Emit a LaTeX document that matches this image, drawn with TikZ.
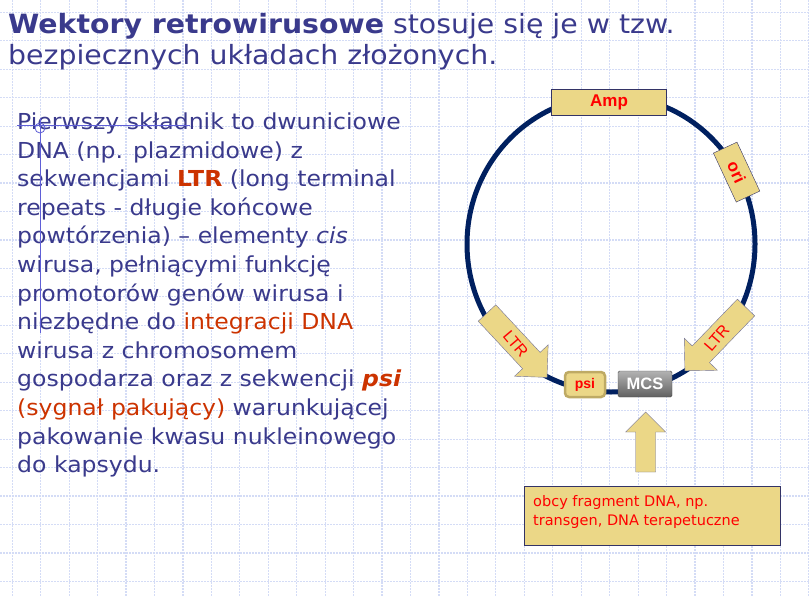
\documentclass[tikz,border=0pt]{standalone}
\usepackage{fontspec}
\setmainfont{DejaVu Sans}
\newfontfamily\slidefont[FakeStretch=1.07]{DejaVu Sans}
\newfontfamily\labelfont{Liberation Sans}
\usepackage{tikz}
\usetikzlibrary{positioning}

\definecolor{textblue}{RGB}{58,58,140}
\definecolor{hired}{RGB}{204,51,0}
\definecolor{khaki}{RGB}{235,215,135}
\definecolor{navy}{RGB}{0,32,96}
\definecolor{boxline}{RGB}{51,51,102}
\definecolor{gridblue}{RGB}{212,220,246}
\definecolor{psiline}{RGB}{190,170,100}
\definecolor{arrowline}{RGB}{115,115,150}
\definecolor{cursorblue}{RGB}{95,95,215}

\begin{document}
\begin{tikzpicture}[x=1pt,y=-1pt,
  gridline/.style={gridblue,line width=1.2pt,dash pattern=on 2pt off 1pt},
  plasmid/.style={navy,line width=5pt},
  labelbox/.style={rectangle,draw=boxline,thin,fill=khaki,inner sep=0pt,text=red,font=\labelfont\fontsize{17}{20}\selectfont\bfseries},
  ltrarrow/.style={draw=arrowline,thin,fill=khaki},
  ltrtext/.style={text=red,font=\labelfont\fontsize{16}{19}\selectfont},
  cursorline/.style={cursorblue,line width=0.8pt}]
\useasboundingbox (0,0) rectangle (810,596);
\fill[white] (0,0) rectangle (810,596);
% background grid
\foreach \i in {0,...,28}
  \draw[gridline] ({12.2+28.45*\i},0) -- ({12.2+28.45*\i},596);
\foreach \j in {0,...,20}
  \draw[gridline] (0,{12.35+28.45*\j}) -- (810,{12.35+28.45*\j});

% title and text
\node[anchor=north west,inner sep=0pt,align=left,text=textblue,font=\slidefont\fontsize{26.5}{31}\selectfont] (title) at (8,13.2)
  {\textbf{Wektory retrowirusowe} stosuje się je w tzw.\\bezpiecznych układach złożonych.};
\node[anchor=north west,inner sep=0pt,align=left,text=textblue,font=\slidefont\fontsize{22}{28.6}\selectfont] (body) at (17,112.6)
  {Pierwszy składnik to dwuniciowe\\
   DNA (np. plazmidowe) z\\
   sekwencjami \textcolor{hired}{\textbf{LTR}} (long terminal\\
   repeats - długie końcowe\\
   powtórzenia) – elementy \textit{cis}\\
   wirusa, pełniącymi funkcję\\
   promotorów genów wirusa i\\
   niezbędne do \textcolor{hired}{integracji DNA}\\
   wirusa z chromosomem\\
   gospodarza oraz z sekwencji \textcolor{hired}{\textbf{\textit{psi}}}\\
   \textcolor{hired}{(sygnał pakujący)} warunkującej\\
   pakowanie kwasu nukleinowego\\
   do kapsydu.};
\draw[cursorline] (17,125) -- (190,125);
\draw[cursorline] (40,118) -- (40,333);
\draw[cursorline] (40,128) circle (5);

% plasmid
\draw[plasmid] (611,244) ellipse [x radius=144,y radius=148];
\node[labelbox,minimum width=115pt,minimum height=26pt] (amp) at (609,102) {Amp};
\node[labelbox,minimum width=54pt,minimum height=26pt,rotate=-65] (ori) at (736.6,172.1) {ori};

\begin{scope}[shift={(487,313)},rotate=-47]
\draw[ltrarrow] (0,-12) -- (65,-12) -- (65,-23) -- (88,0) -- (65,23) -- (65,12) -- (0,12) -- cycle;
\node[ltrtext,rotate=-50] (ltrleft) at (42,0) {LTR};
\end{scope}
\begin{scope}[shift={(746,307.5)},rotate=-134]
\draw[ltrarrow] (0,-12) -- (65,-12) -- (65,-23) -- (88,0) -- (65,23) -- (65,12) -- (0,12) -- cycle;
\node[ltrtext,rotate=49] (ltrright) at (42,0) {LTR};
\end{scope}

\node[rectangle,rounded corners=4pt,draw=psiline,line width=2.5pt,fill=khaki,minimum width=40pt,minimum height=25pt,inner sep=0pt,text=red,font=\labelfont\fontsize{14}{16}\selectfont\bfseries] (psi) at (585,384.5) {psi};
\node[rectangle,rounded corners=1.5pt,draw=black!70,thin,top color=black!30,bottom color=black!62,minimum width=54pt,minimum height=26pt,inner sep=0pt,text=white,font=\labelfont\fontsize{16.5}{19}\selectfont\bfseries] (mcs) at (645,384) {MCS};

% insert
\begin{scope}[shift={(645.7,472)},rotate=90]
\draw[ltrarrow] (0,-10) -- (40,-10) -- (40,-20) -- (60,0) -- (40,20) -- (40,10) -- (0,10) -- cycle;
\end{scope}
\draw[draw=boxline,thin,fill=khaki] (524,485.7) rectangle (780,545);
\node[anchor=north west,inner sep=0pt,align=left,text=red,font=\fontsize{14.5}{18.3}\selectfont] (insert) at (533,495.7)
  {obcy fragment DNA, np.\\transgen, DNA terapetuczne};
\end{tikzpicture}
\end{document}
